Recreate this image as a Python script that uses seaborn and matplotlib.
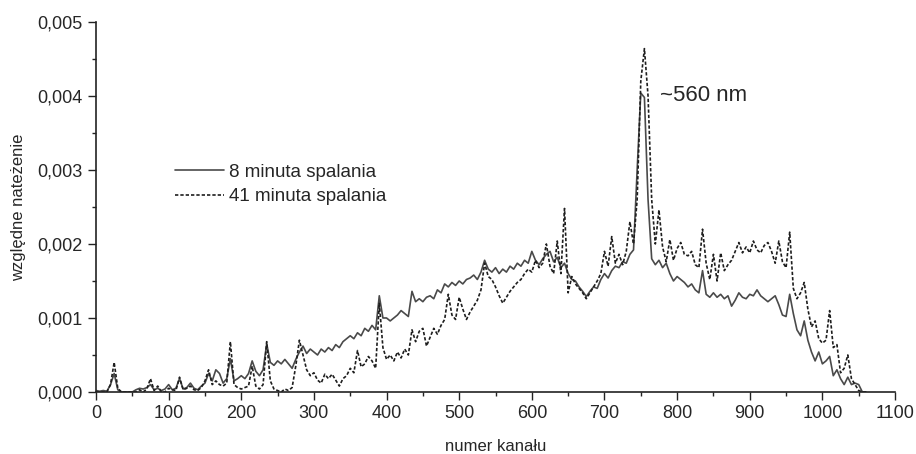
import numpy as np
import pandas as pd
import matplotlib
matplotlib.use("Agg")
import matplotlib.pyplot as plt
import seaborn as sns
from matplotlib.ticker import MultipleLocator, FuncFormatter

# channel grid, every 5 channels
channels = list(range(0, 1065, 5))

# 8 minuta spalania (units of 1e-4)
min8 = [
    0.2, 0.1, 0.2, 0.1, 1.0, 2.5, 0.3, 0.0, 0.0, 0.0,      # 0-45
    0.0, 0.3, 0.5, 0.4, 0.6, 1.0, 0.3, 0.5, 0.2, 0.4,      # 50-95
    1.0, 0.3, 0.5, 1.8, 0.4, 0.6, 1.2, 0.5, 0.3, 0.8,      # 100-145
    1.2, 2.5, 1.5, 3.0, 2.5, 1.2, 1.8, 4.5, 1.5, 1.8,      # 150-195
    2.2, 1.8, 2.5, 4.2, 2.8, 2.2, 3.0, 6.5, 4.0, 3.6,      # 200-245
    4.2, 3.8, 4.4, 3.8, 3.2, 4.4, 5.4, 6.2, 5.2, 5.8,      # 250-295
    5.4, 5.0, 5.8, 5.4, 6.0, 5.6, 6.4, 6.0, 6.8, 7.2,      # 300-345
    7.6, 7.2, 8.0, 7.6, 8.6, 8.2, 9.0, 8.4, 13.0, 10.0,    # 350-395
    10.0, 9.6, 10.0, 10.4, 11.0, 10.6, 10.2, 13.6, 12.2, 12.6,  # 400-445
    12.2, 12.8, 13.0, 12.6, 13.8, 13.4, 14.6, 14.2, 14.8, 14.4,  # 450-495
    15.0, 14.6, 15.2, 15.4, 15.8, 15.2, 16.2, 17.8, 16.6, 16.2,  # 500-545
    16.8, 16.0, 16.6, 16.2, 17.0, 16.6, 17.4, 17.0, 17.8, 17.4,  # 550-595
    19.0, 17.8, 17.2, 18.0, 18.6, 19.0, 17.6, 18.2, 16.8, 17.4,  # 600-645
    16.0, 15.2, 15.0, 14.2, 13.6, 12.9, 13.6, 14.2, 14.0, 15.2,  # 650-695
    16.0, 15.4, 16.4, 17.0, 16.8, 17.6, 17.4, 18.6, 19.2, 30.0,  # 700-745
    40.4, 39.8, 26.0, 18.0, 17.2, 17.8, 16.8, 17.4, 16.0, 15.0,  # 750-795
    15.6, 15.2, 14.8, 14.2, 14.6, 13.8, 13.4, 16.4, 13.2, 12.8,  # 800-845
    13.4, 12.8, 13.2, 12.6, 13.0, 11.6, 12.4, 13.4, 12.8, 12.6,  # 850-895
    13.2, 13.0, 13.8, 13.0, 12.6, 12.2, 12.6, 13.0, 11.8, 10.4,  # 900-945
    10.2, 13.2, 10.6, 8.4, 7.6, 9.6, 7.0, 5.4, 4.2, 5.4,   # 950-995
    3.8, 4.2, 4.8, 2.2, 3.0, 1.8, 1.0, 2.0, 1.0, 1.2,      # 1000-1045
    1.0, 0.0, 0.0,                                          # 1050-1060
]

# 41 minuta spalania (units of 1e-4)
min41 = [
    0.0, 0.0, 0.0, 0.0, 1.0, 4.0, 0.5, 0.0, 0.0, 0.0,      # 0-45
    0.0, 0.0, 0.3, 0.0, 0.4, 1.8, 0.2, 0.8, 0.0, 0.0,      # 50-95
    0.5, 0.3, 0.2, 2.0, 0.3, 0.5, 0.8, 0.3, 0.2, 0.6,      # 100-145
    1.5, 3.0, 1.0, 1.5, 1.0, 0.8, 1.2, 6.8, 1.0, 0.6,      # 150-195
    0.4, 0.6, 0.8, 3.5, 0.8, 0.4, 1.0, 6.8, 1.5, 0.4,      # 200-245
    0.2, 0.0, 0.4, 0.2, 0.6, 3.5, 7.0, 5.0, 3.0, 2.2,      # 250-295
    2.6, 1.6, 1.2, 2.4, 1.8, 2.4, 1.6, 0.8, 1.8, 2.2,      # 300-345
    3.2, 2.6, 5.6, 3.4, 3.8, 4.8, 4.2, 3.2, 12.0, 6.0,     # 350-395
    4.4, 5.0, 4.2, 5.4, 4.6, 5.8, 5.0, 8.4, 6.8, 8.2,      # 400-445
    8.6, 6.2, 7.4, 8.6, 7.8, 9.0, 9.8, 13.2, 10.4, 9.8,    # 450-495
    12.8, 11.2, 9.8, 10.8, 11.6, 12.4, 13.8, 17.4, 15.6, 15.2,  # 500-545
    14.2, 13.0, 12.0, 12.8, 13.6, 14.2, 14.8, 15.2, 16.0, 16.6,  # 550-595
    16.2, 17.8, 16.8, 17.4, 20.0, 17.0, 16.0, 20.4, 16.0, 24.8,  # 600-645
    13.4, 15.6, 14.6, 14.0, 13.4, 12.6, 13.4, 14.2, 15.0, 16.0,  # 650-695
    19.0, 17.0, 21.0, 17.4, 18.6, 17.2, 19.0, 23.0, 20.0, 26.0,  # 700-745
    42.0, 46.4, 40.0, 26.0, 20.0, 24.6, 19.6, 17.6, 20.6, 17.8,  # 750-795
    19.4, 20.2, 18.6, 18.4, 19.0, 17.2, 16.8, 22.0, 17.4, 15.2,  # 800-845
    18.6, 15.0, 18.8, 16.4, 17.2, 17.8, 19.0, 20.2, 18.8, 19.6,  # 850-895
    18.8, 20.4, 19.2, 18.8, 19.8, 20.2, 19.0, 17.4, 20.4, 17.6,  # 900-945
    16.8, 21.6, 14.0, 12.6, 13.4, 14.8, 11.2, 8.8, 9.6, 7.2,     # 950-995
    6.6, 7.0, 11.0, 6.0, 6.4, 2.6, 3.2, 5.0, 1.8, 1.0,     # 1000-1045
    0.2, 0.0, 0.0,                                          # 1050-1060
]

labels = ["8 minuta spalania", "41 minuta spalania"]

df = pd.DataFrame({
    "kanal": channels * 2,
    "wartosc": np.array(min8 + min41) * 1e-4,
    "seria": [labels[0]] * len(channels) + [labels[1]] * len(channels),
})

sns.set_style("ticks")
plt.rcParams["font.family"] = ["Liberation Sans", "DejaVu Sans"]

fig = plt.figure(figsize=(9.16, 4.54), dpi=100)
ax = fig.add_axes([0.1048, 0.1366, 0.8723, 0.815])

sns.lineplot(data=df[df.seria == labels[0]], x="kanal", y="wartosc",
             color="#4a4a4a", lw=1.2, ax=ax, label=labels[0])
sns.lineplot(data=df[df.seria == labels[1]], x="kanal", y="wartosc",
             color="#1e1e1e", lw=1.2, ls=(0, (2, 1.2)), ax=ax, label=labels[1])

ax.set_xlim(0, 1100)
ax.set_ylim(0, 0.005)
ax.xaxis.set_major_locator(MultipleLocator(100))
ax.xaxis.set_minor_locator(MultipleLocator(50))
ax.yaxis.set_major_locator(MultipleLocator(0.001))
ax.yaxis.set_minor_locator(MultipleLocator(0.0005))
ax.yaxis.set_major_formatter(FuncFormatter(lambda v, p: f"{v:.3f}".replace(".", ",")))
ax.tick_params(which="major", direction="out", length=6, width=1, labelsize=13, color="#222")
ax.tick_params(which="minor", direction="out", length=3, width=1, color="#222")
for s in ["top", "right"]:
    ax.spines[s].set_visible(False)
for s in ["left", "bottom"]:
    ax.spines[s].set_linewidth(1.2)
    ax.spines[s].set_color("#222")

ax.set_xlabel("numer kanału", fontsize=12, labelpad=12)
ax.set_ylabel("względne nateżenie", fontsize=12, labelpad=8)

ax.text(776, 0.00401, "~560 nm", fontsize=16, va="center", ha="left")

ax.legend(loc="upper left", bbox_to_anchor=(0.099, 0.617), frameon=False,
          borderpad=0, borderaxespad=0,
          fontsize=13.5, handlelength=2.6, handletextpad=0.3, labelspacing=0.4)

fig.savefig("out.png", dpi=100)
